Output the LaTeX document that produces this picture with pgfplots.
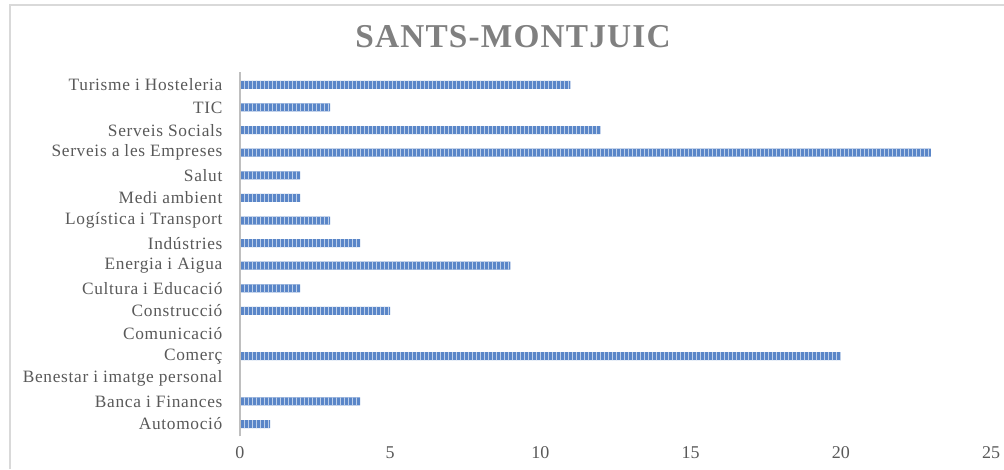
\documentclass[border=0pt]{standalone}
\usepackage{fontspec}
\setmainfont{Liberation Serif}
\usepackage{pgfplots}
\pgfplotsset{compat=1.18}
\usetikzlibrary{patterns}
\definecolor{barblue}{RGB}{90,134,200}
\definecolor{labgray}{RGB}{89,89,89}
\definecolor{titlegray}{RGB}{128,128,128}
\definecolor{framegray}{RGB}{217,217,217}
\definecolor{axgray}{RGB}{191,191,191}
\begin{document}
\begin{tikzpicture}
\useasboundingbox (0,0) rectangle (753pt,351.75pt);
\draw[framegray, line width=1.2pt] (7.5pt,0) -- (7.5pt,348pt) -- (760pt,348pt);
\node[titlegray, font={\addfontfeatures{LetterSpace=3.5}\fontsize{25}{28}\selectfont\bfseries}] at (384.75pt,324pt) {SANTS-MONTJUIC};
\begin{axis}[
  at={(180pt,33.75pt)}, anchor=origin,
  scale only axis, width=563.25pt, height=273pt,
  xmin=0, xmax=25, ymin=-0.55, ymax=15.55,
  xbar, bar width=6pt,
  axis line style={draw=none},
  axis x line*=bottom, axis y line*=left,
  xtick={0,5,10,15,20,25},
  ytick={0,...,15},
  yticklabels={Automoció,Banca i Finances,Benestar i imatge personal,Comerç,Comunicació,Construcció,Cultura i Educació,Energia i Aigua,Indústries,Logística i Transport,Medi ambient,Salut,Serveis a les Empreses,Serveis Socials,TIC,Turisme i Hosteleria},
  major tick length=0pt,
  tick style={draw=none},
  /pgf/number format/assume math mode=true,
  yticklabel style={inner sep=0pt, anchor=east, xshift=-13pt, text=labgray, font={\addfontfeatures{LetterSpace=4}\fontsize{13}{15}\selectfont}},
  xticklabel style={inner sep=0pt, anchor=north, yshift=-7.5pt, text=labgray, font=\fontsize{13.5}{15}\selectfont},
  clip=false,
]
\addplot[draw=none, fill=barblue, postaction={pattern=vertical lines, pattern color=white!60!barblue}] coordinates {
(1,0) (4,1) (0,2) (20,3) (0,4) (5,5) (2,6) (9,7) (4,8) (3,9) (2,10) (2,11) (23,12) (12,13) (3,14) (11,15)};
\draw[axgray, line width=2pt] (axis cs:0,-0.55) -- (axis cs:0,15.55);
\end{axis}
\end{tikzpicture}
\end{document}
